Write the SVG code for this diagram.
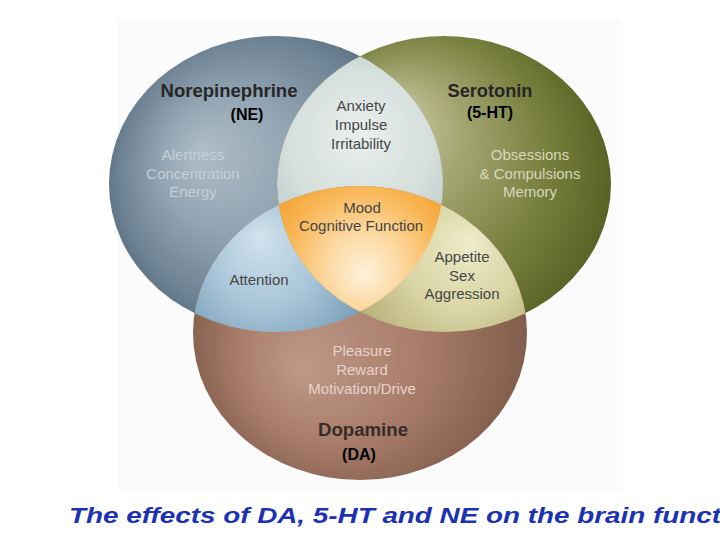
<svg xmlns="http://www.w3.org/2000/svg" width="720" height="540" viewBox="0 0 720 540">
<style>
.title{font-family:"Liberation Sans",Arial,sans-serif;font-weight:bold;font-size:19px;text-anchor:middle;}
.abbr{font-family:"Liberation Sans",Arial,sans-serif;font-weight:bold;font-size:16px;fill:#000;text-anchor:middle;}
.lbl{font-family:"Liberation Sans",Arial,sans-serif;font-size:15px;text-anchor:middle;}
.dark{fill:#464646;}
.neLight{fill:#c4cfd6;}
.htLight{fill:#d6d8bc;}
.daLight{fill:#e8d2c8;}
.caption{font-family:"Liberation Sans",Arial,sans-serif;font-weight:bold;font-style:italic;font-size:22px;fill:#1c32b4;}
</style>
<defs>
<clipPath id="clipNE"><ellipse cx="276" cy="184" rx="167" ry="148"/></clipPath>
<clipPath id="clip5HT"><ellipse cx="444" cy="184" rx="167" ry="148"/></clipPath>
<radialGradient id="gNE" gradientUnits="userSpaceOnUse" cx="276" cy="184" r="185" fx="200" fy="150">
<stop offset="0" stop-color="#aebdc7"/><stop offset="0.35" stop-color="#93a6b3"/><stop offset="0.75" stop-color="#6c8192"/><stop offset="1" stop-color="#4a5e6d"/>
</radialGradient>
<radialGradient id="g5HT" gradientUnits="userSpaceOnUse" cx="444" cy="184" r="200" fx="385" fy="115">
<stop offset="0" stop-color="#cfcfac"/><stop offset="0.3" stop-color="#a4a672"/><stop offset="0.62" stop-color="#78803e"/><stop offset="1" stop-color="#4a5418"/>
</radialGradient>
<radialGradient id="gDA" gradientUnits="userSpaceOnUse" cx="360" cy="333" r="185" fx="300" fy="370">
<stop offset="0" stop-color="#be9888"/><stop offset="0.5" stop-color="#a87c6a"/><stop offset="1" stop-color="#7c5846"/>
</radialGradient>
<radialGradient id="gAnx" gradientUnits="userSpaceOnUse" cx="360" cy="150" r="120" fx="360" fy="130">
<stop offset="0" stop-color="#e9efed"/><stop offset="0.6" stop-color="#d5dfdc"/><stop offset="1" stop-color="#b8c7c5"/>
</radialGradient>
<radialGradient id="gAtt" gradientUnits="userSpaceOnUse" cx="270" cy="270" r="110" fx="260" fy="235">
<stop offset="0" stop-color="#d2e3ed"/><stop offset="0.5" stop-color="#a8c5d8"/><stop offset="1" stop-color="#7097b3"/>
</radialGradient>
<radialGradient id="gApp" gradientUnits="userSpaceOnUse" cx="455" cy="270" r="110" fx="470" fy="240">
<stop offset="0" stop-color="#eeecca"/><stop offset="0.5" stop-color="#d9d5a6"/><stop offset="1" stop-color="#b2ac72"/>
</radialGradient>
<radialGradient id="gMood" gradientUnits="userSpaceOnUse" cx="362" cy="260" r="95" fx="365" fy="275">
<stop offset="0" stop-color="#fff2dc"/><stop offset="0.4" stop-color="#fcd8a0"/><stop offset="0.8" stop-color="#f8b552"/><stop offset="1" stop-color="#f4a63c"/>
</radialGradient>
</defs>

<rect x="118" y="18" width="504" height="472" fill="#fbfbfb"/>

<g id="norepinephrine">
<ellipse cx="276" cy="184" rx="167" ry="148" fill="url(#gNE)"/>
</g>
<g id="serotonin">
<ellipse cx="444" cy="184" rx="167" ry="148" fill="url(#g5HT)"/>
</g>
<g id="dopamine">
<ellipse cx="360" cy="333" rx="167" ry="147" fill="url(#gDA)"/>
</g>
<g id="ne-5ht">
<ellipse cx="444" cy="184" rx="167" ry="148" fill="url(#gAnx)" clip-path="url(#clipNE)"/>
</g>
<g id="ne-da">
<ellipse cx="360" cy="333" rx="167" ry="147" fill="url(#gAtt)" clip-path="url(#clipNE)"/>
</g>
<g id="5ht-da">
<ellipse cx="360" cy="333" rx="167" ry="147" fill="url(#gApp)" clip-path="url(#clip5HT)"/>
</g>
<g id="all-three" clip-path="url(#clipNE)">
<ellipse cx="360" cy="333" rx="167" ry="147" fill="url(#gMood)" clip-path="url(#clip5HT)"/>
</g>

<g id="labels">
<text class="title" x="229" y="97" fill="#262626" textLength="137" lengthAdjust="spacingAndGlyphs">Norepinephrine</text>
<text class="abbr" x="247" y="120">(NE)</text>
<text class="title" x="490" y="97" fill="#262626" textLength="85" lengthAdjust="spacingAndGlyphs">Serotonin</text>
<text class="abbr" x="490" y="118">(5-HT)</text>
<text class="title" x="363" y="436" fill="#352c28" textLength="90" lengthAdjust="spacingAndGlyphs">Dopamine</text>
<text class="abbr" x="359" y="460">(DA)</text>

<text class="lbl neLight" x="193" y="160">Alertness</text>
<text class="lbl neLight" x="193" y="178.5">Concentration</text>
<text class="lbl neLight" x="193" y="197">Energy</text>

<text class="lbl htLight" x="530" y="160">Obsessions</text>
<text class="lbl htLight" x="530" y="178.5">&amp; Compulsions</text>
<text class="lbl htLight" x="530" y="197">Memory</text>

<text class="lbl dark" x="361" y="111">Anxiety</text>
<text class="lbl dark" x="361" y="130">Impulse</text>
<text class="lbl dark" x="361" y="149">Irritability</text>

<text class="lbl dark" x="362" y="213">Mood</text>
<text class="lbl dark" x="361" y="231">Cognitive Function</text>

<text class="lbl dark" x="259" y="285">Attention</text>

<text class="lbl dark" x="462" y="262">Appetite</text>
<text class="lbl dark" x="462" y="280.5">Sex</text>
<text class="lbl dark" x="462" y="299">Aggression</text>

<text class="lbl daLight" x="362" y="356">Pleasure</text>
<text class="lbl daLight" x="362" y="375">Reward</text>
<text class="lbl daLight" x="362" y="394">Motivation/Drive</text>
</g>

<text class="caption" x="69" y="523" textLength="652" lengthAdjust="spacingAndGlyphs">The effects of DA, 5-HT and NE on the brain funct</text>
</svg>
